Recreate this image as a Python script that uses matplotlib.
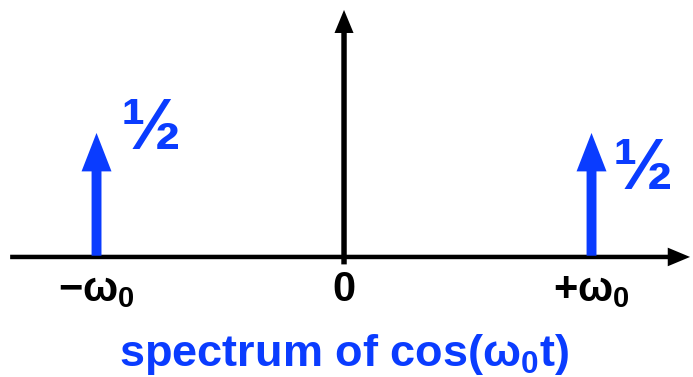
import numpy as np
import matplotlib.pyplot as plt
from matplotlib.patches import FancyArrow

plt.rcParams['font.family'] = ['Liberation Sans', 'DejaVu Sans']
plt.rcParams['font.weight'] = 'bold'
plt.rcParams['mathtext.fontset'] = 'custom'
plt.rcParams['mathtext.rm'] = 'Liberation Sans:bold'
plt.rcParams['mathtext.it'] = 'Liberation Sans:bold'
plt.rcParams['mathtext.bf'] = 'Liberation Sans:bold'

# spectrum of cos(w0 t): two impulses of height 1/2 at -w0 and +w0
freqs = [-1.0, 1.0]
amps = [0.5, 0.5]
amp_labels = ['½', '½']
tick_pos = [-1.0, 0.0, 1.0]
tick_labels = [r'$-\omega_0$', '0', r'$+\omega_0$']
title = r'spectrum of cos($\omega_0$t)'

blue = '#0a3cff'

fig = plt.figure(figsize=(6.93, 3.77), dpi=100)
ax = fig.add_axes([0, 0, 1, 1])
ax.set_xlim(-1.39, 1.41)
ax.set_ylim(-0.484, 1.036)
ax.axis('off')

# axes with arrow heads
ax.add_patch(FancyArrow(-1.349, 0, 2.747, 0, width=0.018, head_width=0.075,
                        head_length=0.09, length_includes_head=True,
                        color='black', lw=0))
ax.add_patch(FancyArrow(0, -0.03, 0, 1.026, width=0.022, head_width=0.077,
                        head_length=0.093, length_includes_head=True,
                        color='black', lw=0))

# impulses
for f, a in zip(freqs, amps):
    ax.add_patch(FancyArrow(f, 0.005, 0, a - 0.005, width=0.04, head_width=0.121,
                            head_length=0.155, length_includes_head=True,
                            color=blue, lw=0, zorder=3))

# 1/2 labels
offsets = [(39, 2), (37, -27)]
for f, a, lab, off in zip(freqs, amps, amp_labels, offsets):
    ax.annotate(lab, xy=(f, a), xytext=off, textcoords='offset points',
                ha='center', va='center', fontsize=52, color=blue,
                fontweight='bold')

for p, lab in zip(tick_pos, tick_labels):
    ax.text(p, -0.177, lab, ha='center', va='baseline', fontsize=30,
            color='black', fontweight='bold')

ax.text(0.0, -0.44, title, ha='center', va='baseline', fontsize=32.5,
        color=blue, fontweight='bold')

fig.savefig('out.png', dpi=100)
